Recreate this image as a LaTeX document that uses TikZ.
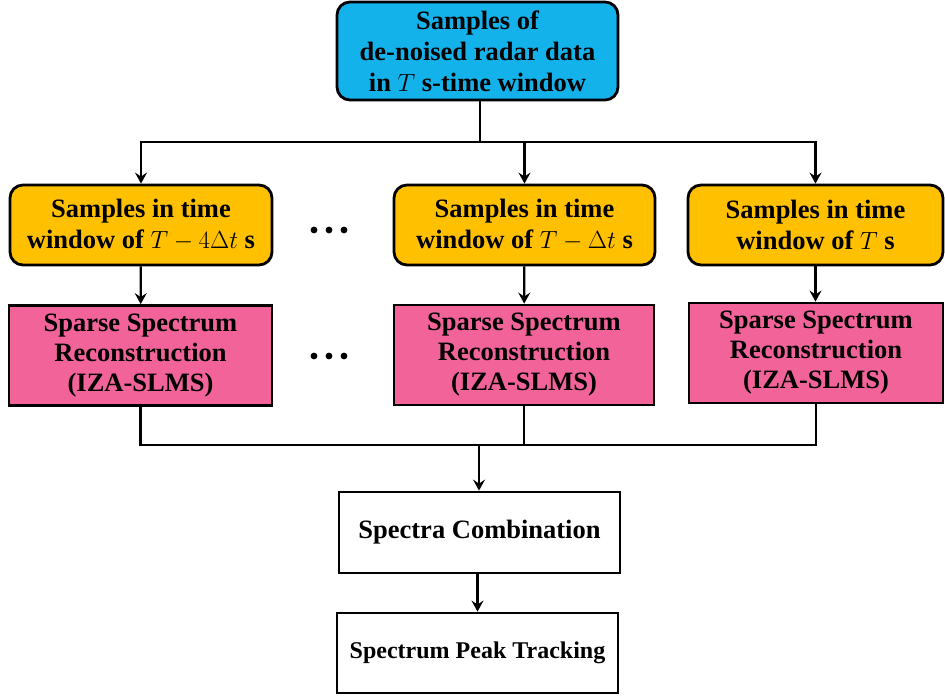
\documentclass[tikz,border=0pt]{standalone}
\usepackage{fontspec}
\setmainfont{Liberation Serif}
\usetikzlibrary{arrows.meta}
\definecolor{topblue}{RGB}{20,178,235}
\definecolor{winyellow}{RGB}{255,192,0}
\definecolor{recpink}{RGB}{241,99,153}
\tikzset{
  boxbase/.style={draw=black, line width=2.8pt, align=center, inner sep=2pt,
    font=\fontsize{26.5}{31}\selectfont\bfseries},
  topbox/.style={boxbase, fill=topblue, rounded corners=13pt},
  winbox/.style={boxbase, fill=winyellow, rounded corners=13pt, minimum height=80pt},
  recbox/.style={boxbase, fill=recpink, minimum height=100pt, font=\fontsize{26.5}{30}\selectfont\bfseries},
  whitebox/.style={boxbase, fill=white, minimum width=281pt},
  conn/.style={line width=2.2pt, draw=black},
  arr/.style={conn, -{Stealth[length=11pt,width=12pt,inset=4pt]}},
  dotmark/.style={fill=black}
}
\begin{document}
\begin{tikzpicture}[x=1pt,y=1pt]
\useasboundingbox (0,0) rectangle (945,-696);

\node[topbox, minimum width=281pt, minimum height=98pt] (top) at (477.5,-51)
  {Samples of\\de-noised radar data\\in $T$ s-time window};

\node[winbox, minimum width=262pt] (y1) at (141,-225)
  {Samples in time\\window of $T-4\Delta t$ s};
\node[winbox, minimum width=261pt] (y2) at (524.5,-225)
  {Samples in time\\window of $T-\Delta t$ s};
\node[winbox, minimum width=255pt] (y3) at (815.5,-225)
  {Samples in time\\window of $T$ s};

\node[recbox, minimum width=263pt] (p1) at (140.5,-355.5)
  {Sparse Spectrum\\Reconstruction\\(IZA-SLMS)};
\node[recbox, minimum width=260pt] (p2) at (524,-355)
  {Sparse Spectrum\\Reconstruction\\(IZA-SLMS)};
\node[recbox, minimum width=254pt] (p3) at (816,-353)
  {Sparse Spectrum\\Reconstruction\\(IZA-SLMS)};

\foreach \dx in {314,329,344} {
  \fill[dotmark] (\dx,-230) circle (3.4);
  \fill[dotmark] (\dx,-356) circle (3.4);
}

\node[whitebox, minimum height=81pt] (comb) at (479.5,-532.5) {Spectra Combination};
\node[whitebox, minimum height=80pt, font=\fontsize{24}{28}\selectfont\bfseries] (peak) at (477.5,-653) {Spectrum Peak Tracking};

\coordinate (bus1) at (480,-142);
\coordinate (bus2) at (479,-445);

\draw[conn] (top.south -| bus1) -- (bus1);
\draw[arr] (bus1) -| (y1.north);
\draw[arr] (bus1) -| (y2.north);
\draw[arr] (bus1) -| (y3.north);

\draw[arr] (y1) -- (p1);
\draw[arr] (y2) -- (p2);
\draw[arr] (y3.south) -- (p3.north -| y3.south);

\draw[conn] (p1.south) |- (bus2);
\draw[conn] (p3.south) |- (bus2);
\draw[conn] (p2.south) -- (p2.south |- bus2);
\draw[arr] (bus2) -- (comb.north -| bus2);
\draw[arr] (comb.south -| peak.north) -- (peak.north);
\end{tikzpicture}
\end{document}
